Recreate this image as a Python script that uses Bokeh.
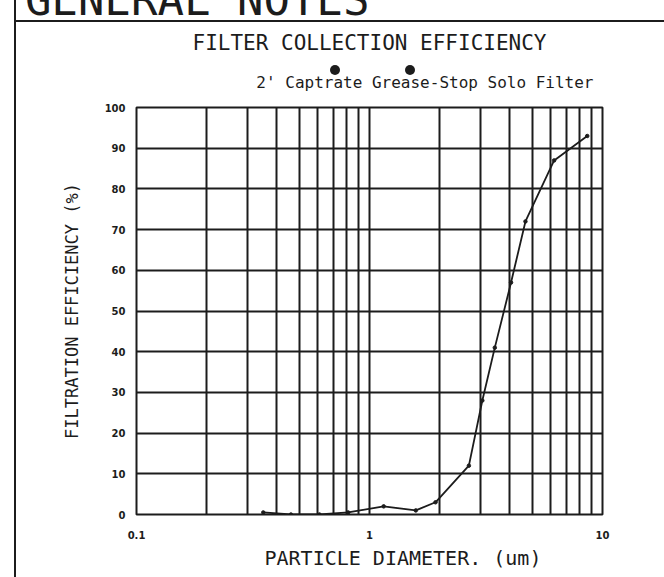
from bokeh.plotting import figure
from bokeh.models import Title, FixedTicker
from bokeh.embed import file_html
from bokeh.resources import INLINE

# ---- data ----
diameter_um = [0.35, 0.46, 0.61, 0.81, 1.15, 1.58, 1.92, 2.67, 3.05, 3.45, 4.05, 4.67, 6.2, 8.6]
efficiency_pct = [0.5, 0.0, 0.0, 0.5, 2.0, 1.0, 3.0, 12.0, 28.0, 41.0, 57.0, 72.0, 87.0, 93.0]

x_grid_values = [0.1, 0.2, 0.3, 0.4, 0.5, 0.6, 0.7, 0.8, 0.9,
                 1, 2, 3, 4, 5, 6, 7, 8, 9, 10]
y_grid_values = [0, 10, 20, 30, 40, 50, 60, 70, 80, 90, 100]
x_tick_values = [0.1, 1, 10]
x_tick_labels = ["0.1", "1", "10"]

sheet_title = "GENERAL NOTES"
chart_title = "FILTER COLLECTION EFFICIENCY"
series_name = "2' Captrate Grease-Stop Solo Filter"
x_title = "PARTICLE DIAMETER. (um)"
y_title = "FILTRATION EFFICIENCY (%)"

INK = "#1c1c1c"
CAD = "DejaVu Sans Mono"

# sheet frame / header drawn around the chart (drawing-sheet decoration)
sheet_css = f"""
:host {{ position: relative; overflow: visible; }}
:host::after {{
  content: "{sheet_title}";
  position: absolute; left: 14px; top: -30px; width: 650px; height: 607px;
  box-sizing: border-box; border-left: 2px solid {INK};
  padding-left: 9px; padding-top: 8px;
  font-family: '{CAD}'; font-size: 44px; line-height: 44px; color: {INK};
  white-space: pre; pointer-events: none; z-index: 100;
  background: linear-gradient(to bottom, transparent 50px, {INK} 50px, {INK} 52px, transparent 52px);
}}
:host::before {{
  content: "";
  position: absolute; left: 330px; top: 65px; width: 10px; height: 10px;
  border-radius: 50%; background: {INK}; box-shadow: 75px 0 0 0 {INK};
  pointer-events: none; z-index: 100;
}}
"""

p = figure(frame_width=466, frame_height=407, x_axis_type="log", x_range=(0.1, 10), y_range=(0, 100),
           title=None, output_backend="svg", toolbar_location=None,
           min_border_left=136, min_border_right=54, min_border_top=107, min_border_bottom=55,
           background_fill_color="white", border_fill_color="white",
           stylesheets=[sheet_css])

p.outline_line_color = INK
p.outline_line_width = 2

# axes
p.xaxis.ticker = FixedTicker(ticks=x_tick_values)
p.xaxis.major_label_overrides = {v: s for v, s in zip(x_tick_values, x_tick_labels)}
p.yaxis.ticker = FixedTicker(ticks=y_grid_values)
for ax in (p.xaxis[0], p.yaxis[0]):
    ax.axis_line_color = None
    ax.major_tick_line_color = None
    ax.minor_tick_line_color = None
    ax.major_tick_out = 0
    ax.major_tick_in = 0
    ax.major_label_text_font = "DejaVu Sans"
    ax.major_label_text_font_style = "bold"
    ax.major_label_text_font_size = "10px"
    ax.major_label_text_color = INK
p.xaxis.major_label_standoff = 16
p.yaxis.major_label_standoff = 11

# grid
p.xgrid.ticker = FixedTicker(ticks=x_grid_values)
p.ygrid.ticker = FixedTicker(ticks=y_grid_values)
for g in (p.xgrid[0], p.ygrid[0]):
    g.grid_line_color = INK
    g.grid_line_width = 2
    g.grid_line_alpha = 1.0

# series
p.line(diameter_um, efficiency_pct, line_color=INK, line_width=1.8)
p.scatter(diameter_um, efficiency_pct, size=3.5, color=INK)

def ttl(text, size, side, align="center", offset=0, standoff=10):
    p.add_layout(Title(text=text, text_font=CAD, text_font_size=size, text_font_style="normal",
                       text_color=INK, align=align, offset=offset, standoff=standoff), side)

ttl(series_name, "16px", "above", align="right", offset=9, standoff=32)
ttl(chart_title, "21px", "above", align="center", standoff=0)
ttl(x_title, "20px", "below", align="left", offset=128, standoff=4)
ttl(y_title, "17px", "left", align="center", standoff=40)

open("out.html", "w").write(file_html(p, INLINE))
